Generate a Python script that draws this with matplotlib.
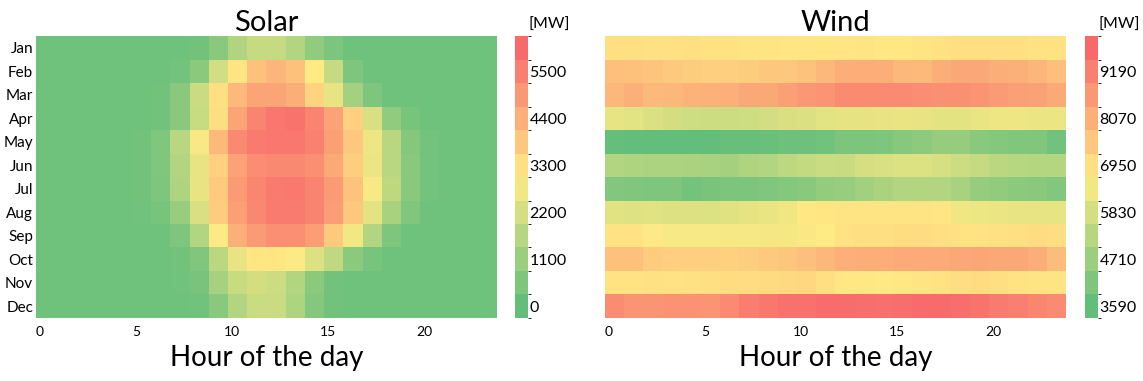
import numpy as np
import matplotlib
matplotlib.use("Agg")
from matplotlib import pyplot as plt
from matplotlib.colors import LinearSegmentedColormap, ListedColormap, BoundaryNorm
from matplotlib.colorbar import ColorbarBase

plt.rcParams["font.family"] = ["Lato", "DejaVu Sans"]

months = ["Jan", "Feb", "Mar", "Apr", "May", "Jun",
          "Jul", "Aug", "Sep", "Oct", "Nov", "Dec"]
hours = np.arange(24)

# average generation per month and hour [MW]
solar = [
    [0, 0, 0, 0, 0, 0, 0, 0, 50, 550, 1350, 1800, 1800, 1400, 700, 250, 0, 0, 0, 0, 0, 0, 0, 0],
    [0, 0, 0, 0, 0, 0, 0, 100, 600, 2050, 3200, 4100, 4380, 4100, 3050, 1800, 300, 0, 0, 0, 0, 0, 0, 0],
    [0, 0, 0, 0, 0, 0, 50, 550, 1900, 3300, 4300, 4800, 4800, 4550, 3600, 2500, 1100, 300, 0, 0, 0, 0, 0, 0],
    [0, 0, 0, 0, 0, 0, 50, 550, 1850, 3350, 4800, 5650, 5950, 6050, 5650, 4850, 3700, 2200, 700, 150, 0, 0, 0, 0],
    [0, 0, 0, 0, 0, 50, 350, 1550, 2900, 4300, 5500, 5850, 5950, 5950, 5700, 4950, 3950, 2650, 1550, 450, 100, 0, 0, 0],
    [0, 0, 0, 0, 0, 50, 350, 1450, 2550, 3700, 4850, 5400, 5500, 5500, 5350, 4700, 3750, 2600, 1550, 500, 100, 0, 0, 0],
    [0, 0, 0, 0, 0, 50, 300, 1300, 2550, 3850, 5050, 5600, 5850, 5900, 5650, 5050, 4050, 2850, 1650, 500, 100, 0, 0, 0],
    [0, 0, 0, 0, 0, 30, 150, 850, 2200, 3800, 4950, 5550, 5850, 5850, 5650, 5000, 3950, 2450, 1200, 350, 0, 0, 0, 0],
    [0, 0, 0, 0, 0, 0, 0, 300, 1400, 2950, 4500, 5050, 5350, 5350, 5000, 3900, 2750, 1400, 300, 0, 0, 0, 0, 0],
    [0, 0, 0, 0, 0, 0, 0, 50, 350, 1600, 2550, 3150, 3150, 2950, 2300, 1700, 600, 150, 0, 0, 0, 0, 0, 0],
    [0, 0, 0, 0, 0, 0, 0, 20, 200, 1150, 1850, 2100, 1950, 1400, 600, 50, 0, 0, 0, 0, 0, 0, 0, 0],
    [0, 0, 0, 0, 0, 0, 0, 0, 30, 500, 1400, 1900, 1900, 1300, 450, 50, 0, 0, 0, 0, 0, 0, 0, 0],
]

wind = [
    [6950, 6950, 6930, 6930, 6950, 6870, 6870, 6850, 6850, 6820, 6820, 6800,
     6820, 6850, 6740, 6740, 6850, 6900, 6950, 6950, 6950, 6950, 6870, 6870],
    [7810, 7760, 7680, 7550, 7450, 7380, 7380, 7450, 7570, 7590, 7720, 7990,
     8220, 8270, 8220, 7990, 7940, 8240, 8380, 8380, 8220, 8170, 8040, 7810],
    [7990, 8200, 7970, 7990, 8120, 8140, 8200, 8380, 8380, 8630, 8820, 8920,
     9150, 9150, 9150, 9180, 9100, 9020, 9020, 8920, 8740, 8600, 8560, 8350],
    [6130, 6045, 5895, 5745, 5615, 5570, 5590, 5615, 5700, 5870, 5890, 6045,
     6110, 6110, 6175, 6220, 6175, 6090, 6090, 6200, 6300, 6300, 6240, 6240],
    [3375, 3330, 3330, 3330, 3310, 3310, 3400, 3410, 3480, 3520, 3520, 3620,
     3870, 3850, 3910, 4080, 4220, 4410, 4410, 4130, 4030, 3940, 3940, 3600],
    [5010, 4960, 4890, 4890, 4850, 4800, 4750, 4960, 5010, 5230, 5400, 5530,
     5510, 5760, 5850, 5930, 5910, 5800, 5570, 5420, 5200, 5120, 5080, 5080],
    [3980, 3940, 3890, 3890, 3700, 3790, 3870, 3870, 3960, 4030, 4130, 4370,
     4430, 4660, 4850, 5010, 5050, 5010, 4790, 4410, 4300, 4180, 4100, 3980],
    [6020, 5980, 6020, 5960, 5960, 5930, 6000, 6110, 6200, 6350, 6700, 6800,
     6830, 6830, 6830, 6830, 6830, 6800, 6350, 6260, 6240, 6175, 6150, 6130],
    [6860, 6860, 6700, 6490, 6490, 6490, 6470, 6470, 6450, 6450, 6540, 6660,
     6860, 6950, 6950, 7020, 7050, 6950, 6860, 6860, 6930, 6980, 7050, 7000],
    [7760, 7760, 7480, 7380, 7380, 7380, 7350, 7430, 7550, 7640, 7780, 7990,
     8200, 8240, 8270, 8300, 8300, 8320, 8400, 8450, 8400, 8380, 8240, 7890],
    [6900, 6880, 6930, 6900, 6930, 6980, 7020, 7050, 7080, 7130, 7180, 6950,
     6770, 6750, 6720, 6740, 6850, 6900, 7000, 7050, 6950, 6900, 6850, 6850],
    [9120, 8920, 8890, 8970, 8970, 8920, 9180, 9460, 9630, 9810, 9810, 9920,
     9900, 9880, 9830, 9880, 9980, 9960, 9880, 9760, 9550, 9420, 9270, 9180],
]

solar_ticks = [0, 1100, 2200, 3300, 4400, 5500]
wind_ticks = [3590, 4710, 5830, 6950, 8070, 9190]

cmap = LinearSegmentedColormap.from_list("gyr", ["#63BE7B", "#FFEB84", "#F8696B"])
block_cmap = ListedColormap(cmap(np.linspace(0, 1, 12)))

fig = plt.figure(figsize=(11.43, 3.81), dpi=100)


def panel(left, cbar_left, data, ticks, title, show_months):
    step = ticks[1] - ticks[0]
    vmin = ticks[0] - step / 4
    vmax = vmin + 12 * step / 2
    ax = fig.add_axes([left, 0.1654, 0.4033, 0.740])
    xe = np.append(hours, hours[-1] + 1) - 0.2
    ye = np.arange(len(months) + 1)
    ax.pcolormesh(xe, ye, np.array(data), cmap=cmap, vmin=vmin, vmax=vmax)
    ax.set_xlim(xe[0], xe[-1])
    ax.set_ylim(ye[-1], 0)
    for s in ax.spines.values():
        s.set_visible(False)
    ax.set_xticks([0, 5, 10, 15, 20])
    ax.tick_params(axis="x", length=0, labelsize=10, pad=6)
    ax.tick_params(axis="y", length=0, labelsize=11, pad=2)
    if show_months:
        ax.set_yticks(np.arange(len(months)) + 0.5)
        ax.set_yticklabels(months)
    else:
        ax.set_yticks([])
    ax.set_title(title, fontsize=21, pad=1)
    ax.set_xlabel("Hour of the day", fontsize=20, labelpad=5)

    cax = fig.add_axes([cbar_left, 0.1654, 0.0114, 0.740])
    bounds = np.linspace(vmin, vmax, 13)
    cb = ColorbarBase(cax, cmap=block_cmap, norm=BoundaryNorm(bounds, 12),
                      boundaries=bounds, ticks=ticks)
    cb.outline.set_visible(False)
    cax.tick_params(length=0, labelsize=11.5, pad=1)
    cax.set_yticklabels([str(t) for t in ticks])
    cax.text(1.0, 1.015, "[MW]", transform=cax.transAxes, fontsize=11.5,
             ha="left", va="bottom")


panel(0.0315, 0.4506, solar, solar_ticks, "Solar", True)
panel(0.5293, 0.9493, wind, wind_ticks, "Wind", False)

fig.savefig("out.png", dpi=100)
